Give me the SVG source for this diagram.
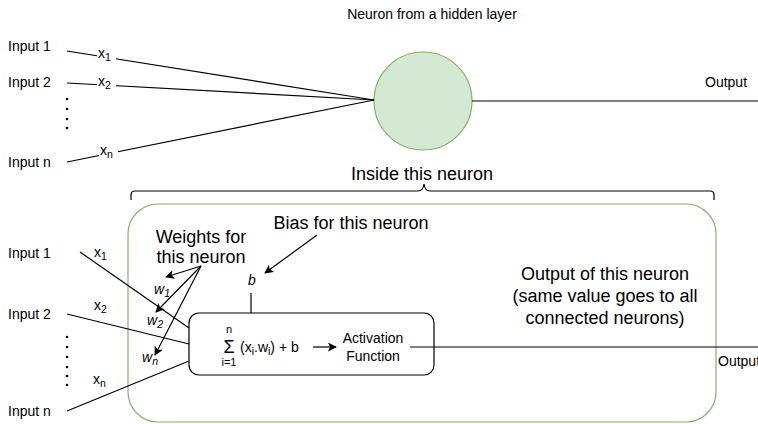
<svg xmlns="http://www.w3.org/2000/svg" width="758" height="424" viewBox="0 0 758 424">
<defs>
<style>
text{font-family:"Liberation Sans",Arial,sans-serif;fill:#000}
.s14{font-size:14px}
.s18{font-size:18px}
.sub{font-size:10.5px}
.ln{stroke:#000;stroke-width:1.2;fill:none}
.it{font-style:italic}
</style>
<marker id="ah" viewBox="0 0 10 10" refX="9" refY="5" markerWidth="9" markerHeight="9" orient="auto" markerUnits="userSpaceOnUse">
<path d="M0,0 L10,5 L0,10 L2.5,5 Z" fill="#000"/>
</marker>
</defs>
<rect width="758" height="424" fill="#fff"/>

<g id="title"><text class="s14" x="432" y="19" text-anchor="middle" font-size="14.5">Neuron from a hidden layer</text></g>

<g id="top-inputs">
<text class="s14" x="8" y="51">Input 1</text>
<text class="s14" x="8" y="87">Input 2</text>
<text class="s14" x="8" y="167">Input n</text>
<g fill="#000"><circle cx="67" cy="99" r="1.3"/><circle cx="67" cy="109" r="1.3"/><circle cx="67" cy="119" r="1.3"/><circle cx="67" cy="128" r="1.3"/></g>
</g>

<g id="neuron"><circle cx="423" cy="101" r="49" fill="#d5e8d4" stroke="#82b366" stroke-width="1.2"/></g>

<g id="container"><rect x="128" y="204" width="588" height="218" rx="30" ry="30" fill="none" stroke="#82b366" stroke-width="1.2"/></g>

<g id="summation-box"><rect x="189" y="313" width="245" height="62" rx="10" ry="10" fill="none" stroke="#000" stroke-width="1.2"/></g>

<g id="connectors">
<path class="ln" d="M67,51 L374,100"/>
<path class="ln" d="M67,83 L374,100"/>
<path class="ln" d="M67,162 L374,100"/>
<path class="ln" d="M472,101 L758,101"/>
<path class="ln" d="M80,252 L189,328"/>
<path class="ln" d="M67,314 L189,344"/>
<path class="ln" d="M67,411 L189,361"/>
<path class="ln" d="M251,313 L251,293"/>
<path class="ln" d="M410,347 L758,347"/>
<path class="ln" d="M317,235 L265,273" marker-end="url(#ah)"/>
<path class="ln" d="M201,266 L166,277" marker-end="url(#ah)"/>
<path class="ln" d="M201,266 L156,312" marker-end="url(#ah)"/>
<path class="ln" d="M201,266 L155,355" marker-end="url(#ah)"/>
<path class="ln" d="M313,347 L336,347" marker-end="url(#ah)"/>
</g>

<g id="top-labels">
<rect x="97" y="46" width="19" height="16" fill="#fff"/>
<text class="s14" x="98" y="58">x<tspan class="sub" dy="3">1</tspan></text>
<rect x="97" y="75" width="19" height="15" fill="#fff"/>
<text class="s14" x="98" y="86">x<tspan class="sub" dy="3">2</tspan></text>
<rect x="99" y="144" width="19" height="15" fill="#fff"/>
<text class="s14" x="100" y="155">x<tspan class="sub" dy="3">n</tspan></text>
<text class="s14" x="705" y="87">Output</text>
</g>

<g id="brace">
<text class="s18" x="422" y="180" text-anchor="middle">Inside this neuron</text>
<path class="ln" d="M131,200 L131,195 Q131,191 135,191 L418,191 Q423,191 424,184 Q425,191 430,191 L710,191 Q714,191 714,195 L714,200"/>
</g>

<g id="bottom-inputs">
<text class="s14" x="8" y="258">Input 1</text>
<text class="s14" x="8" y="319">Input 2</text>
<text class="s14" x="8" y="416">Input n</text>
<g fill="#000"><circle cx="67" cy="337" r="1.3"/><circle cx="67" cy="347" r="1.3"/><circle cx="67" cy="357" r="1.3"/><circle cx="67" cy="367" r="1.3"/><circle cx="67" cy="376" r="1.3"/><circle cx="67" cy="385" r="1.3"/></g>
<text class="s14" x="94" y="257">x<tspan class="sub" dy="3">1</tspan></text>
<text class="s14" x="94" y="310">x<tspan class="sub" dy="3">2</tspan></text>
<text class="s14" x="93" y="384">x<tspan class="sub" dy="3">n</tspan></text>
</g>

<g id="weights">
<text class="s18" x="201" y="243" text-anchor="middle">Weights for</text>
<text class="s18" x="201" y="263" text-anchor="middle">this neuron</text>
<text class="s14 it" x="154" y="294">w<tspan class="sub" dy="3">1</tspan></text>
<text class="s14 it" x="147" y="325">w<tspan class="sub" dy="3">2</tspan></text>
<text class="s14 it" x="142" y="362">w<tspan class="sub" dy="3">n</tspan></text>
</g>

<g id="bias">
<text class="s18" x="351" y="229" text-anchor="middle">Bias for this neuron</text>
<text class="s14 it" x="252" y="285" text-anchor="middle">b</text>
</g>

<g id="summation">
<text x="229" y="333" font-size="11" text-anchor="middle">n</text>
<text x="229" y="352.5" font-size="18" text-anchor="middle">Σ</text>
<text x="229" y="366" font-size="11" text-anchor="middle">i=1</text>
<text class="s14" x="240" y="352">(x<tspan class="sub" dy="3">i</tspan><tspan dy="-3">.w</tspan><tspan class="sub" dy="3">i</tspan><tspan dy="-3">) + b</tspan></text>
<text class="s14" x="373" y="343" text-anchor="middle">Activation</text>
<text class="s14" x="373" y="361" text-anchor="middle">Function</text>
</g>

<g id="output-bottom">
<text class="s18" x="605" y="280" text-anchor="middle">Output of this neuron</text>
<text class="s18" x="605" y="302" text-anchor="middle">(same value goes to all</text>
<text class="s18" x="605" y="324" text-anchor="middle">connected neurons)</text>
<text class="s14" x="718" y="366">Output</text>
</g>
</svg>
